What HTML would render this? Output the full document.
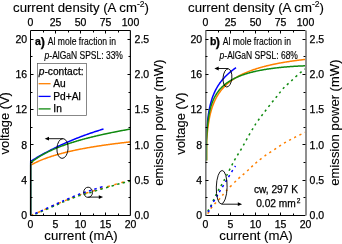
<!DOCTYPE html>
<html><head><meta charset="utf-8"><style>
html,body{margin:0;padding:0;background:#fff;}
svg{display:block;will-change:transform;}
text{font-family:"Liberation Sans",sans-serif;fill:#000;stroke:#000;stroke-width:0.25px;}
.tl{font-size:10.5px;}
.ti{font-size:13.2px;stroke-width:0.12px;}
.an{stroke-width:0.15px;}
</style></head><body>
<svg width="342" height="244" viewBox="0 0 342 244">
<rect width="342" height="244" fill="#fff"/>
<g>
<path d="M30.70,215.30 L30.70,165.27 L31.17,164.89 L31.72,164.59 L32.30,164.28 L33.12,163.85 L33.73,163.53 L34.35,163.22 L34.97,162.91 L35.58,162.61 L36.20,162.32 L36.81,162.03 L37.43,161.74 L38.05,161.47 L38.66,161.19 L39.28,160.92 L39.90,160.66 L40.51,160.40 L41.13,160.14 L41.75,159.89 L42.36,159.64 L42.98,159.39 L43.59,159.15 L44.21,158.92 L44.83,158.68 L45.44,158.45 L46.06,158.23 L46.68,158.00 L47.29,157.78 L47.91,157.57 L48.53,157.35 L49.14,157.14 L49.76,156.93 L50.37,156.73 L50.99,156.52 L51.61,156.32 L52.22,156.13 L52.84,155.93 L53.46,155.74 L54.07,155.55 L54.69,155.36 L55.31,155.18 L55.92,154.99 L56.54,154.81 L57.15,154.63 L57.77,154.46 L58.39,154.28 L59.00,154.11 L59.62,153.94 L60.24,153.77 L60.85,153.61 L61.47,153.44 L62.08,153.28 L62.70,153.12 L63.32,152.96 L63.93,152.80 L64.55,152.65 L65.17,152.49 L65.78,152.34 L66.40,152.19 L67.02,152.04 L67.63,151.89 L68.25,151.75 L68.86,151.60 L69.48,151.46 L70.10,151.32 L70.71,151.18 L71.33,151.04 L71.95,150.90 L72.56,150.76 L73.18,150.63 L73.80,150.49 L74.41,150.36 L75.03,150.23 L75.64,150.10 L76.26,149.97 L76.88,149.84 L77.49,149.72 L78.11,149.59 L78.73,149.47 L79.34,149.35 L79.96,149.22 L80.58,149.10 L81.19,148.98 L81.81,148.87 L82.42,148.75 L83.04,148.63 L83.66,148.52 L84.27,148.40 L84.89,148.29 L85.51,148.18 L86.12,148.06 L86.74,147.95 L87.36,147.84 L87.97,147.73 L88.59,147.63 L89.20,147.52 L89.82,147.41 L90.44,147.31 L91.05,147.20 L91.67,147.10 L92.29,147.00 L92.90,146.89 L93.52,146.79 L94.14,146.69 L94.75,146.59 L95.37,146.49 L95.98,146.40 L96.60,146.30 L97.22,146.20 L97.83,146.11 L98.45,146.01 L99.07,145.92 L99.68,145.82 L100.30,145.73 L100.92,145.64 L101.53,145.55 L102.15,145.45 L102.76,145.36 L103.38,145.27 L104.00,145.19 L104.61,145.10 L105.23,145.01 L105.85,144.92 L106.46,144.84 L107.08,144.75 L107.69,144.66 L108.31,144.58 L108.93,144.50 L109.54,144.41 L110.16,144.33 L110.78,144.25 L111.39,144.16 L112.01,144.08 L112.63,144.00 L113.24,143.92 L113.86,143.84 L114.47,143.76 L115.09,143.69 L115.71,143.61 L116.32,143.53 L116.94,143.45 L117.56,143.38 L118.17,143.30 L118.79,143.22 L119.41,143.15 L120.02,143.08 L120.64,143.00 L121.25,142.93 L121.87,142.85 L122.49,142.78 L123.10,142.71 L123.72,142.64 L124.34,142.57 L124.95,142.50 L125.57,142.43 L126.19,142.36 L126.80,142.29 L127.42,142.22 L128.03,142.15 L128.65,142.08 L129.27,142.01 L129.88,141.94 L130.50,141.88" stroke="#ff8000" stroke-width="1.5" fill="none" />
<path d="M30.70,215.30 L30.70,161.38 L31.17,160.96 L31.72,160.63 L32.30,160.27 L32.95,159.89 L33.84,159.35 L34.73,158.82 L35.63,158.29 L36.52,157.77 L37.41,157.25 L38.31,156.74 L39.20,156.23 L40.09,155.72 L40.98,155.22 L41.88,154.72 L42.77,154.23 L43.66,153.74 L44.56,153.25 L45.45,152.77 L46.34,152.30 L47.24,151.82 L48.13,151.36 L49.02,150.89 L49.92,150.43 L50.81,149.97 L51.70,149.52 L52.59,149.07 L53.49,148.62 L54.38,148.18 L55.27,147.74 L56.17,147.31 L57.06,146.88 L57.95,146.45 L58.85,146.03 L59.74,145.61 L60.63,145.19 L61.53,144.78 L62.42,144.37 L63.31,143.97 L64.20,143.56 L65.10,143.17 L65.99,142.77 L66.88,142.38 L67.78,141.99 L68.67,141.61 L69.56,141.22 L70.46,140.85 L71.35,140.47 L72.24,140.10 L73.14,139.73 L74.03,139.37 L74.92,139.01 L75.81,138.65 L76.71,138.29 L77.60,137.94 L78.49,137.59 L79.39,137.25 L80.28,136.90 L81.17,136.56 L82.07,136.23 L82.96,135.89 L83.85,135.56 L84.75,135.23 L85.64,134.91 L86.53,134.59 L87.42,134.27 L88.32,133.95 L89.21,133.64 L90.10,133.33 L91.00,133.03 L91.89,132.72 L92.78,132.42 L93.68,132.12 L94.57,131.83 L95.46,131.53 L96.36,131.24 L97.25,130.96 L98.14,130.67 L99.03,130.39 L99.93,130.11 L100.82,129.84 L101.71,129.56 L102.61,129.29 L103.50,129.02" stroke="#0000ff" stroke-width="1.5" fill="none" />
<path d="M30.70,215.30 L30.70,163.01 L31.08,162.53 L31.58,162.12 L32.12,161.69 L33.12,160.91 L33.73,160.45 L34.35,159.99 L34.97,159.55 L35.58,159.12 L36.20,158.69 L36.81,158.27 L37.43,157.87 L38.05,157.47 L38.66,157.07 L39.28,156.69 L39.90,156.31 L40.51,155.94 L41.13,155.57 L41.75,155.22 L42.36,154.86 L42.98,154.52 L43.59,154.18 L44.21,153.84 L44.83,153.51 L45.44,153.19 L46.06,152.87 L46.68,152.56 L47.29,152.25 L47.91,151.94 L48.53,151.64 L49.14,151.34 L49.76,151.05 L50.37,150.76 L50.99,150.48 L51.61,150.20 L52.22,149.92 L52.84,149.65 L53.46,149.38 L54.07,149.11 L54.69,148.85 L55.31,148.59 L55.92,148.33 L56.54,148.08 L57.15,147.83 L57.77,147.58 L58.39,147.34 L59.00,147.09 L59.62,146.85 L60.24,146.62 L60.85,146.38 L61.47,146.15 L62.08,145.92 L62.70,145.70 L63.32,145.47 L63.93,145.25 L64.55,145.03 L65.17,144.81 L65.78,144.60 L66.40,144.39 L67.02,144.17 L67.63,143.97 L68.25,143.76 L68.86,143.55 L69.48,143.35 L70.10,143.15 L70.71,142.95 L71.33,142.75 L71.95,142.56 L72.56,142.36 L73.18,142.17 L73.80,141.98 L74.41,141.79 L75.03,141.60 L75.64,141.42 L76.26,141.23 L76.88,141.05 L77.49,140.87 L78.11,140.69 L78.73,140.51 L79.34,140.33 L79.96,140.16 L80.58,139.98 L81.19,139.81 L81.81,139.64 L82.42,139.47 L83.04,139.30 L83.66,139.13 L84.27,138.97 L84.89,138.80 L85.51,138.64 L86.12,138.48 L86.74,138.31 L87.36,138.15 L87.97,137.99 L88.59,137.84 L89.20,137.68 L89.82,137.52 L90.44,137.37 L91.05,137.22 L91.67,137.06 L92.29,136.91 L92.90,136.76 L93.52,136.61 L94.14,136.46 L94.75,136.31 L95.37,136.17 L95.98,136.02 L96.60,135.88 L97.22,135.73 L97.83,135.59 L98.45,135.45 L99.07,135.30 L99.68,135.16 L100.30,135.02 L100.92,134.89 L101.53,134.75 L102.15,134.61 L102.76,134.47 L103.38,134.34 L104.00,134.20 L104.61,134.07 L105.23,133.94 L105.85,133.80 L106.46,133.67 L107.08,133.54 L107.69,133.41 L108.31,133.28 L108.93,133.15 L109.54,133.02 L110.16,132.90 L110.78,132.77 L111.39,132.64 L112.01,132.52 L112.63,132.39 L113.24,132.27 L113.86,132.15 L114.47,132.02 L115.09,131.90 L115.71,131.78 L116.32,131.66 L116.94,131.54 L117.56,131.42 L118.17,131.30 L118.79,131.18 L119.41,131.06 L120.02,130.94 L120.64,130.83 L121.25,130.71 L121.87,130.60 L122.49,130.48 L123.10,130.37 L123.72,130.25 L124.34,130.14 L124.95,130.02 L125.57,129.91 L126.19,129.80 L126.80,129.69 L127.42,129.58 L128.03,129.47 L128.65,129.36 L129.27,129.25 L129.88,129.14 L130.50,129.03" stroke="#108a10" stroke-width="1.5" fill="none" />
</g>
<path d="M32.00,215.00 C33.62,214.30 37.42,212.70 41.75,210.80 C46.08,208.90 53.54,205.53 58.00,203.60 C62.46,201.67 64.95,200.63 68.50,199.20 C72.05,197.77 75.75,196.18 79.30,195.00 C82.85,193.82 86.22,193.17 89.80,192.10 C93.38,191.03 97.12,189.72 100.80,188.60 C104.48,187.48 108.53,186.38 111.90,185.40 C115.27,184.42 117.90,183.52 121.00,182.70 C124.10,181.88 128.92,180.87 130.50,180.50" stroke="#ff8000" stroke-width="1.5" fill="none" stroke-dasharray="2.8 4.6" stroke-dashoffset="1.1"/>
<path d="M32.00,215.60 C33.62,214.90 37.42,213.30 41.75,211.40 C46.08,209.50 53.54,206.13 58.00,204.20 C62.46,202.27 64.95,201.23 68.50,199.80 C72.05,198.37 75.75,196.78 79.30,195.60 C82.85,194.42 86.22,193.77 89.80,192.70 C93.38,191.63 97.12,190.32 100.80,189.20 C104.48,188.08 108.53,186.98 111.90,186.00 C115.27,185.02 117.90,184.12 121.00,183.30 C124.10,182.48 128.92,181.47 130.50,181.10" stroke="#108a10" stroke-width="1.5" fill="none" stroke-dasharray="2.5 3.3" stroke-dashoffset="2.05"/>
<path d="M32.00,215.00 C33.62,214.27 37.42,212.57 41.75,210.60 C46.08,208.63 53.54,205.20 58.00,203.20 C62.46,201.20 64.95,200.12 68.50,198.60 C72.05,197.08 75.75,195.42 79.30,194.10 C82.85,192.78 86.97,191.62 89.80,190.70 C92.63,189.78 94.02,189.33 96.30,188.60 C98.58,187.87 102.30,186.68 103.50,186.30" stroke="#0000ff" stroke-width="1.5" fill="none" stroke-dasharray="2.5 3.3" stroke-dashoffset="2.05"/>
<path d="M206.20,150.00 L206.20,148.94 L206.20,148.02 L206.20,147.08 L206.20,146.13 L206.20,145.16 L206.20,144.18 L206.20,143.19 L206.22,142.19 L206.25,141.19 L206.29,140.18 L206.33,139.17 L206.38,138.16 L206.42,137.16 L206.47,136.15 L206.52,135.15 L206.57,134.15 L206.63,133.15 L206.69,132.16 L206.75,131.18 L206.81,130.21 L206.88,129.24 L206.95,128.28 L207.02,127.32 L207.09,126.38 L207.17,125.44 L207.25,124.52 L207.33,123.60 L207.42,122.69 L207.51,121.79 L207.60,120.90 L207.70,120.02 L207.80,119.15 L207.98,117.69 L208.15,116.33 L208.33,115.07 L208.51,113.88 L208.69,112.75 L208.86,111.69 L209.04,110.69 L209.22,109.73 L209.40,108.81 L209.57,107.94 L209.75,107.11 L209.93,106.30 L210.11,105.53 L210.28,104.79 L210.46,104.08 L210.64,103.39 L210.82,102.72 L210.99,102.08 L211.17,101.45 L211.35,100.85 L211.52,100.26 L211.88,99.13 L212.23,98.07 L212.59,97.06 L212.94,96.10 L213.30,95.18 L213.65,94.30 L214.01,93.46 L214.36,92.65 L214.72,91.87 L215.07,91.13 L215.43,90.41 L215.78,89.71 L216.14,89.04 L216.49,88.38 L216.85,87.75 L217.20,87.14 L217.55,86.55 L217.91,85.97 L218.26,85.41 L218.62,84.86 L218.97,84.33 L219.33,83.81 L219.68,83.30 L220.04,82.81 L220.57,82.08 L221.10,81.39 L221.63,80.71 L222.17,80.06 L222.70,79.43 L223.23,78.81 L223.76,78.22 L224.29,77.64 L224.83,77.07 L225.36,76.52 L225.89,75.98 L226.42,75.46 L226.95,74.95 L227.49,74.45 L228.02,73.96 L228.55,73.48 L229.08,73.02 L229.62,72.56 L230.15,72.11 L230.68,71.67 L231.21,71.24 L231.74,70.82 L232.28,70.41 L232.81,70.00 L233.34,69.60 L233.87,69.21 L234.40,68.83 L234.94,68.45 L235.47,68.08 L236.00,67.71" stroke="#0000ff" stroke-width="1.5" fill="none" />
<g transform="translate(0,0.5)">
<path d="M206.60,160.00 L206.60,159.33 L206.60,158.67 L206.60,157.75 L206.60,156.98 L206.60,156.08 L206.60,155.06 L206.60,153.92 L206.60,153.31 L206.60,152.67 L206.60,152.01 L206.60,151.32 L206.60,150.61 L206.60,149.88 L206.60,149.13 L206.60,148.36 L206.60,147.58 L206.60,146.78 L206.60,145.97 L206.60,145.14 L206.60,144.31 L206.60,143.46 L206.60,142.61 L206.60,141.76 L206.63,140.89 L206.69,140.02 L206.75,139.15 L206.81,138.28 L206.88,137.41 L206.95,136.53 L207.02,135.66 L207.09,134.78 L207.17,133.91 L207.25,133.04 L207.33,132.17 L207.42,131.31 L207.51,130.45 L207.60,129.59 L207.70,128.74 L207.80,127.89 L208.41,123.32 L209.03,119.57 L209.64,116.39 L210.26,113.63 L210.87,111.20 L211.49,109.02 L212.10,107.06 L212.72,105.27 L213.33,103.63 L213.94,102.11 L214.56,100.70 L215.17,99.38 L215.79,98.15 L216.40,96.99 L217.02,95.89 L217.63,94.85 L218.25,93.87 L218.86,92.94 L219.47,92.05 L220.09,91.20 L220.70,90.38 L221.32,89.60 L221.93,88.86 L222.55,88.14 L223.16,87.45 L223.78,86.78 L224.39,86.14 L225.01,85.52 L225.62,84.93 L226.23,84.35 L226.85,83.79 L227.46,83.25 L228.08,82.72 L228.69,82.21 L229.31,81.72 L229.92,81.23 L230.54,80.77 L231.15,80.31 L231.76,79.87 L232.38,79.44 L232.99,79.02 L233.61,78.61 L234.22,78.21 L234.84,77.82 L235.45,77.44 L236.07,77.07 L236.68,76.71 L237.29,76.35 L237.91,76.01 L238.52,75.67 L239.14,75.34 L239.75,75.01 L240.37,74.70 L240.98,74.39 L241.60,74.08 L242.21,73.78 L242.82,73.49 L243.44,73.20 L244.05,72.92 L244.67,72.65 L245.28,72.38 L245.90,72.11 L246.51,71.85 L247.13,71.60 L247.74,71.35 L248.35,71.10 L248.97,70.86 L249.58,70.62 L250.20,70.39 L250.81,70.16 L251.43,69.94 L252.04,69.72 L252.66,69.50 L253.27,69.29 L253.88,69.08 L254.50,68.87 L255.11,68.67 L255.73,68.46 L256.34,68.27 L256.96,68.07 L257.57,67.88 L258.19,67.70 L258.80,67.51 L259.42,67.33 L260.03,67.15 L260.64,66.97 L261.26,66.80 L261.87,66.63 L262.49,66.46 L263.10,66.29 L263.72,66.13 L264.33,65.97 L264.95,65.81 L265.56,65.65 L266.17,65.50 L266.79,65.35 L267.40,65.20 L268.02,65.05 L268.63,64.90 L269.25,64.76 L269.86,64.62 L270.48,64.48 L271.09,64.34 L271.70,64.20 L272.32,64.07 L272.93,63.94 L273.55,63.81 L274.16,63.68 L274.78,63.55 L275.39,63.42 L276.01,63.30 L276.62,63.18 L277.23,63.06 L277.85,62.94 L278.46,62.82 L279.08,62.71 L279.69,62.59 L280.31,62.48 L280.92,62.37 L281.54,62.26 L282.15,62.15 L282.76,62.04 L283.38,61.94 L283.99,61.83 L284.61,61.73 L285.22,61.63 L285.84,61.53 L286.45,61.43 L287.07,61.33 L287.68,61.23 L288.29,61.14 L288.91,61.04 L289.52,60.95 L290.14,60.86 L290.75,60.76 L291.37,60.67 L291.98,60.59 L292.60,60.50 L293.21,60.41 L293.83,60.33 L294.44,60.24 L295.05,60.16 L295.67,60.08 L296.28,59.99 L296.90,59.91 L297.51,59.83 L298.13,59.75 L298.74,59.68 L299.36,59.60 L299.97,59.52 L300.58,59.45 L301.20,59.38 L301.81,59.30 L302.43,59.23 L303.04,59.16 L303.66,59.09 L304.27,59.02 L304.89,58.95 L305.50,58.88" stroke="#ff8000" stroke-width="1.5" fill="none" />
<path d="M206.50,160.00 L206.50,158.84 L206.50,157.47 L206.50,156.10 L206.50,154.74 L206.50,153.39 L206.50,152.05 L206.50,150.73 L206.50,149.42 L206.50,148.12 L206.50,146.85 L206.50,145.59 L206.50,144.35 L206.50,143.12 L206.50,141.92 L206.50,140.73 L206.52,139.56 L206.57,138.42 L206.63,137.28 L206.69,136.17 L206.75,135.08 L206.81,134.00 L206.88,132.94 L206.95,131.90 L207.02,130.87 L207.09,129.86 L207.17,128.87 L207.25,127.90 L207.33,126.93 L207.42,125.99 L207.51,125.06 L207.60,124.14 L207.70,123.24 L207.80,122.35 L208.41,117.69 L209.03,114.01 L209.64,110.97 L210.26,108.38 L210.87,106.14 L211.49,104.15 L212.10,102.38 L212.72,100.77 L213.33,99.31 L213.94,97.97 L214.56,96.73 L215.17,95.59 L215.79,94.51 L216.40,93.51 L217.02,92.57 L217.63,91.68 L218.25,90.85 L218.86,90.05 L219.47,89.30 L220.09,88.58 L220.70,87.90 L221.32,87.25 L221.93,86.63 L222.55,86.03 L223.16,85.46 L223.78,84.91 L224.39,84.38 L225.01,83.88 L225.62,83.39 L226.23,82.92 L226.85,82.46 L227.46,82.02 L228.08,81.60 L228.69,81.19 L229.31,80.79 L229.92,80.40 L230.54,80.03 L231.15,79.67 L231.76,79.32 L232.38,78.98 L232.99,78.65 L233.61,78.33 L234.22,78.01 L234.84,77.71 L235.45,77.41 L236.07,77.13 L236.68,76.85 L237.29,76.57 L237.91,76.31 L238.52,76.05 L239.14,75.79 L239.75,75.55 L240.37,75.31 L240.98,75.07 L241.60,74.84 L242.21,74.62 L242.82,74.40 L243.44,74.19 L244.05,73.98 L244.67,73.77 L245.28,73.58 L245.90,73.38 L246.51,73.19 L247.13,73.00 L247.74,72.82 L248.35,72.64 L248.97,72.47 L249.58,72.30 L250.20,72.13 L250.81,71.97 L251.43,71.81 L252.04,71.65 L252.66,71.50 L253.27,71.35 L253.88,71.20 L254.50,71.05 L255.11,70.91 L255.73,70.77 L256.34,70.64 L256.96,70.50 L257.57,70.37 L258.19,70.25 L258.80,70.12 L259.42,70.00 L260.03,69.88 L260.64,69.76 L261.26,69.64 L261.87,69.53 L262.49,69.42 L263.10,69.31 L263.72,69.20 L264.33,69.10 L264.95,68.99 L265.56,68.89 L266.17,68.79 L266.79,68.70 L267.40,68.60 L268.02,68.51 L268.63,68.42 L269.25,68.33 L269.86,68.24 L270.48,68.15 L271.09,68.07 L271.70,67.98 L272.32,67.90 L272.93,67.82 L273.55,67.74 L274.16,67.67 L274.78,67.59 L275.39,67.52 L276.01,67.45 L276.62,67.37 L277.23,67.30 L277.85,67.24 L278.46,67.17 L279.08,67.10 L279.69,67.04 L280.31,66.98 L280.92,66.91 L281.54,66.85 L282.15,66.79 L282.76,66.74 L283.38,66.68 L283.99,66.62 L284.61,66.57 L285.22,66.51 L285.84,66.46 L286.45,66.41 L287.07,66.36 L287.68,66.31 L288.29,66.26 L288.91,66.21 L289.52,66.17 L290.14,66.12 L290.75,66.08 L291.37,66.03 L291.98,65.99 L292.60,65.95 L293.21,65.91 L293.83,65.87 L294.44,65.83 L295.05,65.79 L295.67,65.76 L296.28,65.72 L296.90,65.69 L297.51,65.65 L298.13,65.62 L298.74,65.58 L299.36,65.55 L299.97,65.52 L300.58,65.49 L301.20,65.46 L301.81,65.43 L302.43,65.40 L303.04,65.38 L303.66,65.35 L304.27,65.32 L304.89,65.30 L305.50,65.27" stroke="#108a10" stroke-width="1.5" fill="none" />
</g>
<path d="M205.50,215.00 C205.98,214.63 207.42,214.00 208.40,212.80 C209.38,211.60 210.28,209.37 211.40,207.80 C212.52,206.23 213.75,204.88 215.10,203.40 C216.45,201.92 217.67,200.95 219.50,198.90 C221.33,196.85 223.02,194.42 226.10,191.10 C229.18,187.78 234.80,182.05 238.00,179.00 C241.20,175.95 243.05,174.82 245.30,172.80 C247.55,170.78 249.65,168.62 251.50,166.90 C253.35,165.18 254.28,164.27 256.40,162.50 C258.52,160.73 261.22,158.45 264.20,156.30 C267.18,154.15 270.85,151.87 274.30,149.60 C277.75,147.33 281.42,144.77 284.90,142.70 C288.38,140.63 291.77,138.95 295.20,137.20 C298.63,135.45 303.78,133.03 305.50,132.20" stroke="#ff8000" stroke-width="1.5" fill="none" stroke-dasharray="2.2 3.6" stroke-dashoffset="3.1"/>
<path d="M205.50,215.00 C205.98,214.20 207.55,211.62 208.40,210.20 C209.25,208.78 209.73,208.22 210.60,206.50 C211.47,204.78 212.68,201.87 213.60,199.90 C214.52,197.93 215.25,196.42 216.10,194.70 C216.95,192.98 217.82,191.18 218.70,189.60 C219.58,188.02 220.12,187.47 221.40,185.20 C222.68,182.93 224.25,180.12 226.40,176.00 C228.55,171.88 231.75,165.12 234.30,160.50 C236.85,155.88 239.25,152.52 241.70,148.30 C244.15,144.08 246.63,139.30 249.00,135.20 C251.37,131.10 253.67,127.12 255.90,123.70 C258.13,120.28 260.13,117.73 262.40,114.70 C264.67,111.67 267.10,108.53 269.50,105.50 C271.90,102.47 274.48,99.37 276.80,96.50 C279.12,93.63 280.93,90.95 283.40,88.30 C285.87,85.65 288.73,83.25 291.60,80.60 C294.47,77.95 298.28,74.37 300.60,72.40 C302.92,70.43 304.68,69.40 305.50,68.80" stroke="#108a10" stroke-width="1.5" fill="none" stroke-dasharray="2.2 3.57" stroke-dashoffset="1.57"/>
<path d="M205.50,215.00 C206.12,214.25 208.10,212.28 209.20,210.50 C210.30,208.72 210.75,206.80 212.10,204.30 C213.45,201.80 215.95,197.78 217.30,195.50 C218.65,193.22 218.73,193.02 220.20,190.60 C221.67,188.18 224.17,184.17 226.10,181.00 C228.03,177.83 230.23,174.10 231.80,171.60 C233.37,169.10 234.88,166.93 235.50,166.00" stroke="#0000ff" stroke-width="1.5" fill="none" stroke-dasharray="2.2 3.6" stroke-dashoffset="1.9"/>
<path d="M30.5,30.5H130.5M30.5,215.5H130.5" stroke="#000" stroke-width="1"/><path d="M30.5,30.5V215.5" stroke="#000" stroke-width="1"/><path d="M130.4,30.5V215.5" stroke="#111" stroke-width="1.2"/><path d="M43.5,215.5v-2M43.5,30.5v2M55.5,215.5v-3M55.5,30.5v3M68.5,215.5v-2M68.5,30.5v2M80.5,215.5v-3M80.5,30.5v3M93.5,215.5v-2M93.5,30.5v2M105.5,215.5v-3M105.5,30.5v3M118.5,215.5v-2M118.5,30.5v2M30.5,197.5h2M130.5,197.5h-2M30.5,180.5h3M130.5,180.5h-3M30.5,162.5h2M130.5,162.5h-2M30.5,144.5h3M130.5,144.5h-3M30.5,127.5h2M130.5,127.5h-2M30.5,109.5h3M130.5,109.5h-3M30.5,92.5h2M130.5,92.5h-2M30.5,74.5h3M130.5,74.5h-3M30.5,56.5h2M130.5,56.5h-2M30.5,39.5h3M130.5,39.5h-3" stroke="#000" stroke-width="1" fill="none"/>
<path d="M205.5,30.5H305.5M205.5,215.5H305.5" stroke="#000" stroke-width="1"/><path d="M205.8,30.5V215.5" stroke="#7a7a7a" stroke-width="1.6"/><path d="M306,30.5V215.5" stroke="#8a8a8a" stroke-width="1.9"/><path d="M218.5,215.5v-2M218.5,30.5v2M230.5,215.5v-3M230.5,30.5v3M243.5,215.5v-2M243.5,30.5v2M255.5,215.5v-3M255.5,30.5v3M268.5,215.5v-2M268.5,30.5v2M280.5,215.5v-3M280.5,30.5v3M293.5,215.5v-2M293.5,30.5v2M205.5,197.5h2M305.5,197.5h-2M205.5,180.5h3M305.5,180.5h-3M205.5,162.5h2M305.5,162.5h-2M205.5,144.5h3M305.5,144.5h-3M205.5,127.5h2M305.5,127.5h-2M205.5,109.5h3M305.5,109.5h-3M205.5,92.5h2M305.5,92.5h-2M205.5,74.5h3M305.5,74.5h-3M205.5,56.5h2M305.5,56.5h-2M205.5,39.5h3M305.5,39.5h-3" stroke="#000" stroke-width="1" fill="none"/>
<text x="27.1" y="219.0" text-anchor="end" class="tl">0</text><text x="27.1" y="183.8" text-anchor="end" class="tl">4</text><text x="27.1" y="148.5" text-anchor="end" class="tl">8</text><text x="27.1" y="113.3" text-anchor="end" class="tl">12</text><text x="27.1" y="78.0" text-anchor="end" class="tl">16</text><text x="27.1" y="42.8" text-anchor="end" class="tl">20</text><text x="134.6" y="219.0" class="tl">0.0</text><text x="134.6" y="183.8" class="tl">0.5</text><text x="134.6" y="148.5" class="tl">1.0</text><text x="134.6" y="113.3" class="tl">1.5</text><text x="134.6" y="78.0" class="tl">2.0</text><text x="134.6" y="42.8" class="tl">2.5</text><text x="30.5" y="227.6" text-anchor="middle" class="tl">0</text><text x="55.5" y="227.6" text-anchor="middle" class="tl">5</text><text x="80.5" y="227.6" text-anchor="middle" class="tl">10</text><text x="105.5" y="227.6" text-anchor="middle" class="tl">15</text><text x="130.5" y="227.6" text-anchor="middle" class="tl">20</text><text x="30.5" y="25.9" text-anchor="middle" class="tl">0</text><text x="55.5" y="25.9" text-anchor="middle" class="tl">25</text><text x="80.5" y="25.9" text-anchor="middle" class="tl">50</text><text x="105.5" y="25.9" text-anchor="middle" class="tl">75</text><text x="130.5" y="25.9" text-anchor="middle" class="tl">100</text><text x="81.0" y="12" text-anchor="middle" class="ti">current density (A cm<tspan font-size="8.6" dy="-5">-2</tspan><tspan dy="5">)</tspan></text><text x="81.0" y="240.2" text-anchor="middle" class="ti">current (mA)</text><text transform="translate(9.0,123.3) rotate(-90)" text-anchor="middle" class="ti" style="font-size:12.9px">voltage (V)</text><text transform="translate(163.1,122.6) rotate(-90)" text-anchor="middle" class="ti" style="font-size:13.05px">emission power (mW)</text><text x="34.9" y="44.8" font-size="10.5" font-weight="bold">a</text><text x="40.7" y="45.6" font-size="12.5" font-weight="bold">)</text><text x="0" y="0" transform="translate(47.8,45.2) scale(0.86,1)" font-size="10" class="an">Al mole fraction in</text><text x="0" y="0" transform="translate(44.6,58.7) scale(0.85,1)" font-size="10" class="an"><tspan font-style="italic">p</tspan>-AlGaN SPSL: 33%</text>
<text x="202.1" y="219.0" text-anchor="end" class="tl">0</text><text x="202.1" y="183.8" text-anchor="end" class="tl">4</text><text x="202.1" y="148.5" text-anchor="end" class="tl">8</text><text x="202.1" y="113.3" text-anchor="end" class="tl">12</text><text x="202.1" y="78.0" text-anchor="end" class="tl">16</text><text x="202.1" y="42.8" text-anchor="end" class="tl">20</text><text x="309.6" y="219.0" class="tl">0.0</text><text x="309.6" y="183.8" class="tl">0.5</text><text x="309.6" y="148.5" class="tl">1.0</text><text x="309.6" y="113.3" class="tl">1.5</text><text x="309.6" y="78.0" class="tl">2.0</text><text x="309.6" y="42.8" class="tl">2.5</text><text x="205.5" y="227.6" text-anchor="middle" class="tl">0</text><text x="230.5" y="227.6" text-anchor="middle" class="tl">5</text><text x="255.5" y="227.6" text-anchor="middle" class="tl">10</text><text x="280.5" y="227.6" text-anchor="middle" class="tl">15</text><text x="305.5" y="227.6" text-anchor="middle" class="tl">20</text><text x="205.5" y="25.9" text-anchor="middle" class="tl">0</text><text x="230.5" y="25.9" text-anchor="middle" class="tl">25</text><text x="255.5" y="25.9" text-anchor="middle" class="tl">50</text><text x="280.5" y="25.9" text-anchor="middle" class="tl">75</text><text x="305.5" y="25.9" text-anchor="middle" class="tl">100</text><text x="256.0" y="12" text-anchor="middle" class="ti">current density (A cm<tspan font-size="8.6" dy="-5">-2</tspan><tspan dy="5">)</tspan></text><text x="256.0" y="240.2" text-anchor="middle" class="ti">current (mA)</text><text transform="translate(185.0,123.6) rotate(-90)" text-anchor="middle" class="ti" style="font-size:12.9px">voltage (V)</text><text transform="translate(339.1,122.6) rotate(-90)" text-anchor="middle" class="ti" style="font-size:13.05px">emission power (mW)</text><text x="209.9" y="44.8" font-size="10.5" font-weight="bold">b</text><text x="215.7" y="45.6" font-size="12.5" font-weight="bold">)</text><text x="0" y="0" transform="translate(222.8,45.2) scale(0.86,1)" font-size="10" class="an">Al mole fraction in</text><text x="0" y="0" transform="translate(219.6,58.7) scale(0.85,1)" font-size="10" class="an"><tspan font-style="italic">p</tspan>-AlGaN SPSL: 68%</text>
<rect x="37.5" y="63.5" width="49" height="52" fill="#fff" stroke="#555" stroke-width="0.7"/>
<text x="38.8" y="75.3" font-size="10.2"><tspan font-style="italic">p</tspan>-contact:</text>
<path d="M38.6,83.7H50.6" stroke="#ff8000" stroke-width="1.3"/>
<text x="53.3" y="87.2" font-size="10.2">Au</text>
<path d="M38.6,96.4H50.6" stroke="#0000ff" stroke-width="1.3"/>
<text x="53.3" y="99.9" font-size="10.2">Pd+Al</text>
<path d="M38.6,108.9H50.6" stroke="#108a10" stroke-width="1.3"/>
<text x="53.3" y="112.4" font-size="10.2">In</text>
<ellipse cx="62.5" cy="148.5" rx="5.6" ry="9.9" transform="rotate(3,62.5,148.5)" fill="none" stroke="#000" stroke-width="0.9"/>
<path d="M62.8,138.7H47.28" stroke="#000" stroke-width="0.9" fill="none"/><path d="M44.7,138.7L49.0,136.79999999999998L49.0,140.6Z" fill="#000"/>
<ellipse cx="88.1" cy="192.3" rx="4.4" ry="5.1" transform="rotate(0,88.1,192.3)" fill="none" stroke="#000" stroke-width="0.9"/>
<path d="M88.3,197.1H100.52" stroke="#000" stroke-width="0.9" fill="none"/><path d="M103.1,197.1L98.8,195.2L98.8,199.0Z" fill="#000"/>
<ellipse cx="227.45" cy="77.9" rx="4.4" ry="9.1" transform="rotate(5,227.45,77.9)" fill="none" stroke="#000" stroke-width="0.9"/>
<path d="M228.3,68.5H216.98000000000002" stroke="#000" stroke-width="0.9" fill="none"/><path d="M214.4,68.5L218.70000000000002,66.6L218.70000000000002,70.4Z" fill="#000"/>
<ellipse cx="221.7" cy="187.2" rx="5.4" ry="16.75" transform="rotate(1.5,221.7,187.2)" fill="none" stroke="#000" stroke-width="0.9"/>
<path d="M221.6,204.2H239.51999999999998" stroke="#000" stroke-width="0.9" fill="none"/><path d="M242.1,204.2L237.79999999999998,202.29999999999998L237.79999999999998,206.1Z" fill="#000"/>
<text x="253.9" y="193.1" font-size="10.2">cw, 297 K</text>
<text x="256.2" y="207.4" font-size="10.2">0.02 mm<tspan font-size="6.6" dx="0.9" dy="-4.4">2</tspan></text>
</svg>
</body></html>
